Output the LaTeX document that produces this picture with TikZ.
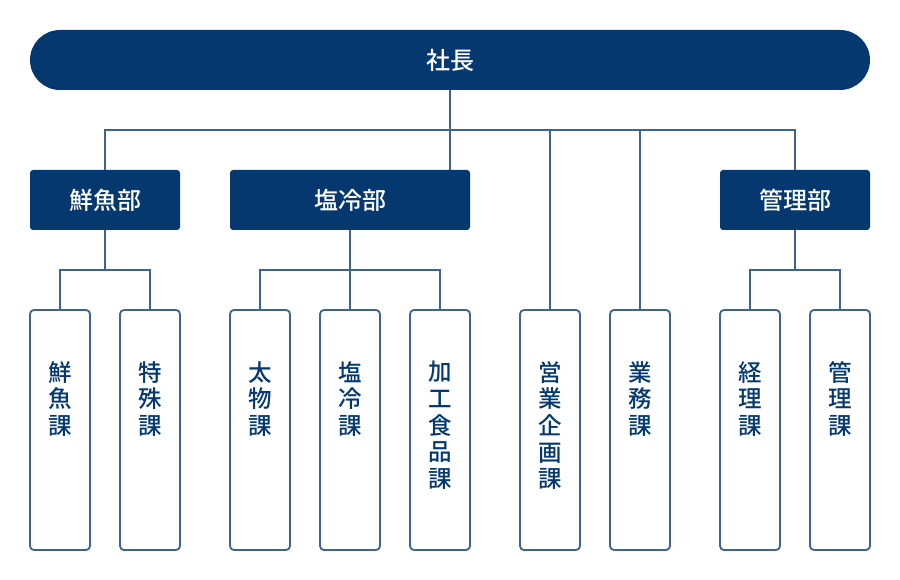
\documentclass[tikz,border=0pt]{standalone}
\usepackage{fontspec}
\setmainfont{Noto Sans CJK JP}[BoldFont={Noto Sans CJK JP Medium}]
\definecolor{navy}{RGB}{5,56,110}
\definecolor{linec}{RGB}{60,100,145}
\begin{document}
\begin{tikzpicture}[x=1pt,y=-1pt,
  conn/.style={draw=linec,line width=1.5pt},
  pill/.style={fill=navy,text=white,rounded corners=30pt,minimum width=840pt,minimum height=60pt,inner sep=0pt,font=\fontsize{24}{24}\selectfont\bfseries},
  dept/.style={fill=navy,text=white,rounded corners=3pt,minimum height=60pt,inner sep=0pt,font=\fontsize{24}{24}\selectfont\bfseries},
  sect/.style={draw=linec,fill=white,line width=1.8pt,rounded corners=4pt,minimum width=60pt,minimum height=240pt,inner sep=0pt},
  vtext/.style={anchor=north,inner sep=0pt,align=center,text=navy,font=\fontsize{23.5}{26.7}\selectfont\bfseries}
]
\useasboundingbox (0,0) rectangle (900,580);
\node[pill] (ceo) at (450,60) {社長};
\node[dept,minimum width=150pt] (sengyo) at (105,200) {鮮魚部};
\node[dept,minimum width=240pt] (enso) at (350,200) {塩冷部};
\node[dept,minimum width=150pt] (kanri) at (795,200) {管理部};
\foreach \n/\x in {s1/60,s2/150,s3/260,s4/350,s5/440,s6/550,s7/640,s8/750,s9/840}{
  \node[sect] (\n) at (\x,430) {};
}
\node[vtext] (t1) at (60,361) {鮮\\魚\\課};
\node[vtext] (t2) at (150,361) {特\\殊\\課};
\node[vtext] (t3) at (260,361) {太\\物\\課};
\node[vtext] (t4) at (350,361) {塩\\冷\\課};
\node[vtext] (t5) at (440,361) {加\\工\\食\\品\\課};
\node[vtext] (t6) at (550,361) {営\\業\\企\\画\\課};
\node[vtext] (t7) at (640,361) {業\\務\\課};
\node[vtext] (t8) at (750,361) {経\\理\\課};
\node[vtext] (t9) at (840,361) {管\\理\\課};
\coordinate (bus) at (450,130);
\coordinate (b1) at (105,270);
\coordinate (b2) at (350,270);
\coordinate (b3) at (795,270);
\draw[conn] (ceo.south) -- (ceo.south |- enso.north);
\draw[conn] (sengyo.north) |- (bus) -| (kanri.north);
\draw[conn] (s6.north) -- (s6.north |- bus);
\draw[conn] (s7.north) -- (s7.north |- bus);
\draw[conn] (sengyo.south) -- (b1);
\draw[conn] (s1.north) |- (b1) -| (s2.north);
\draw[conn] (enso.south) -- (s4.north);
\draw[conn] (s3.north) |- (b2) -| (s5.north);
\draw[conn] (kanri.south) -- (b3);
\draw[conn] (s8.north) |- (b3) -| (s9.north);
\end{tikzpicture}
\end{document}
